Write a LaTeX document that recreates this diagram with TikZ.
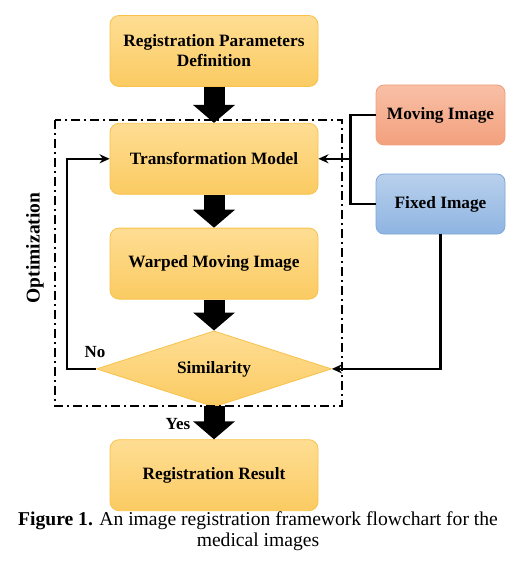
\documentclass[tikz,border=0pt]{standalone}
\usepackage{fontspec}
\setmainfont{Liberation Serif}
\usetikzlibrary{positioning, arrows.meta, shapes.geometric}
\definecolor{boxtop}{HTML}{FEDD93}
\definecolor{boxbot}{HTML}{FBCB62}
\definecolor{boxline}{HTML}{F8C24A}
\definecolor{movtop}{HTML}{F8C0A6}
\definecolor{movbot}{HTML}{F3A07D}
\definecolor{movline}{HTML}{EF9E7C}
\definecolor{fixtop}{HTML}{B9D0EC}
\definecolor{fixbot}{HTML}{8EB4E2}
\definecolor{fixline}{HTML}{7EA6D8}

\begin{document}
\begin{tikzpicture}[x=1pt, y=-1pt, node distance=33pt,
      every node/.style={align=center, font=\bfseries\fontsize{17.3}{20}\selectfont},
      procbox/.style={draw=boxline, line width=0.8pt, rounded corners=9pt, top color=boxtop, bottom color=boxbot,
        minimum width=208pt, minimum height=71pt, inner sep=2pt},
      imgbox/.style={rounded corners=8pt, line width=0.8pt, minimum width=129pt, minimum height=60pt, inner sep=2pt},
      bigarrow/.style={line width=21pt, -{Triangle[length=18pt, width=41pt]}},
      thinarrow/.style={line width=2.2pt, -{Stealth[length=10pt, width=9pt]}},
      optframe/.style={line width=2.4pt, dash pattern=on 9pt off 4pt on 2pt off 4pt}]
    \useasboundingbox (0,0) rectangle (506,561);

    \node[procbox] (param) at (214,51) {Registration Parameters\\Definition};
    \node[procbox, below=36pt of param] (trans) {Transformation Model};
    \node[procbox, below=of trans] (warp) {Warped Moving Image};
    \node[diamond, aspect=3.1, draw=boxline, line width=0.8pt, top color=boxtop, bottom color=boxbot,
      minimum width=235pt, minimum height=76pt, inner sep=0pt, below=31pt of warp] (sim) {Similarity};
    \node[procbox, below=32pt of sim] (result) {Registration Result};

    \node[imgbox, draw=movline, top color=movtop, bottom color=movbot] (moving) at (440.5,115) {Moving Image};
    \node[imgbox, draw=fixline, top color=fixtop, bottom color=fixbot] (fixed) at (440.5,204) {Fixed Image};

    % optimization loop frame
    \draw[optframe] (55,120) rectangle (342,406);
    \node[rotate=90, font=\bfseries\fontsize{19.5}{22}\selectfont] (opt) at (35,248) {Optimization};

    \draw[bigarrow] (param) -- (trans);
    \draw[bigarrow] (trans) -- (warp);
    \draw[bigarrow] (warp) -- (sim);
    \draw[bigarrow] ([yshift=1pt]sim.south) -- (result);

    \coordinate (join) at ([xshift=32pt]trans.east);
    \draw[line width=2.2pt] (moving.west) -| (join) |- (fixed.west);
    \draw[thinarrow] (join) -- (trans.east);
    \draw[thinarrow] (fixed.south) |- (sim.east);
    \draw[thinarrow] (sim.west) -- ++(-29,0) |- (trans.west);

    \node[font=\bfseries\fontsize{17}{20}\selectfont] (no) at (95,352) {No};
    \node[font=\bfseries\fontsize{17}{20}\selectfont] (yes) at (178,424) {Yes};

    \node[font=\fontsize{19.6}{21}\selectfont] (caption) at (258,531)
      {\textbf{Figure 1.} An image registration framework flowchart for the\\medical images};
  \end{tikzpicture}
\end{document}
